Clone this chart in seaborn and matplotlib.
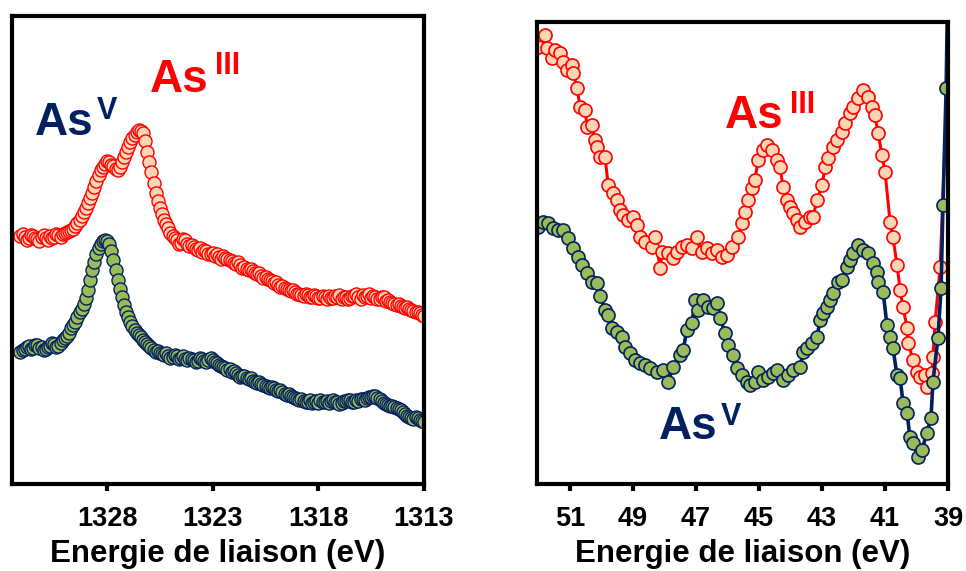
import numpy as np
import matplotlib
matplotlib.use("Agg")
import matplotlib.pyplot as plt
import seaborn as sns

# ---- As 2p region (left) : 0.1 eV step from 1332.1 down to 1313.0 ----
e_2p = np.round(1332.1 - 0.1 * np.arange(192), 1)
as3_2p = [248, 250, 247, 244, 246, 249, 248, 246, 245, 243, 247, 249, 246, 244,
          248, 246, 247, 250, 249, 247, 250, 251, 252, 253, 254, 255, 258, 261,
          264, 268, 272, 276, 281, 286, 291, 297, 303, 309, 314, 317, 320, 323,
          322, 319, 318, 315, 314, 317, 322, 327, 332, 337, 342, 346, 349, 352,
          354, 353, 351, 343, 332, 322, 312, 301, 291, 283, 276, 270, 264, 260,
          256, 251, 248, 246, 244, 240, 241, 245, 244, 240, 238, 239, 237, 235,
          234, 236, 232, 234, 233, 230, 230, 231, 228, 230, 227, 225, 228, 226,
          225, 224, 223, 221, 220, 222, 219, 216, 217, 215, 214, 215, 213, 211,
          210, 211, 208, 206, 207, 205, 204, 203, 201, 202, 199, 197, 198, 196,
          195, 194, 193, 194, 192, 190, 190, 189, 188, 190, 189, 187, 187, 189,
          188, 186, 186, 188, 187, 185, 188, 186, 186, 188, 187, 189, 185, 187,
          187, 185, 186, 188, 188, 190, 187, 185, 189, 187, 188, 190, 186, 188,
          187, 185, 185, 187, 187, 183, 184, 182, 181, 180, 179, 180, 178, 177,
          176, 177, 175, 174, 173, 172, 172, 171, 169, 168]
as5_2p = [132, 134, 135, 137, 138, 135, 136, 139, 139, 136, 137, 134, 135, 137,
          138, 141, 140, 137, 138, 141, 144, 146, 148, 151, 156, 159, 162, 167,
          172, 175, 180, 186, 194, 204, 214, 222, 230, 236, 240, 243, 244, 243,
          240, 233, 224, 214, 204, 195, 187, 179, 172, 167, 162, 158, 154, 151,
          149, 147, 144, 142, 140, 138, 136, 134, 132, 133, 131, 130, 129, 131,
          128, 126, 127, 129, 128, 125, 126, 128, 125, 124, 126, 125, 124, 122,
          123, 126, 125, 123, 122, 124, 126, 124, 122, 121, 119, 118, 117, 116,
          114, 115, 112, 113, 111, 109, 107, 108, 108, 106, 105, 106, 103, 102,
          101, 102, 100, 99, 98, 97, 96, 97, 96, 94, 93, 94, 92, 90, 89, 90,
          88, 87, 86, 85, 84, 85, 83, 82, 82, 84, 81, 82, 83, 81, 84, 82,
          82, 83, 81, 83, 84, 82, 82, 80, 81, 83, 83, 84, 84, 82, 82, 84,
          83, 85, 85, 84, 86, 87, 87, 88, 88, 86, 85, 83, 81, 80, 79, 78,
          78, 77, 76, 75, 74, 72, 70, 68, 67, 66, 65, 67, 66, 64, 63, 62]

# ---- As 3d region (right) ----
e_3d_as3 = [52.02, 51.79, 51.73, 51.57, 51.48, 51.32, 51.22, 51.10, 50.94,
            50.90, 50.78, 50.68, 50.52, 50.46, 50.30, 50.21, 50.14, 50.05,
            49.89, 49.79, 49.63, 49.51, 49.41, 49.32, 49.16, 49.00, 48.87,
            48.78, 48.62, 48.40, 48.30, 48.14, 48.08, 47.89, 47.73, 47.60,
            47.44, 47.29, 47.13, 46.97, 46.81, 46.65, 46.49, 46.33, 46.17,
            46.02, 45.86, 45.67, 45.54, 45.44, 45.35, 45.22, 45.13, 45.03,
            44.87, 44.75, 44.59, 44.43, 44.33, 44.24, 44.11, 44.02, 43.92,
            43.79, 43.70, 43.54, 43.38, 43.29, 43.16, 43.00, 42.90, 42.81,
            42.65, 42.52, 42.37, 42.27, 42.11, 42.02, 41.86, 41.70, 41.54,
            41.41, 41.32, 41.22, 41.10, 41.00, 40.84, 40.75, 40.62, 40.52,
            40.43, 40.30, 40.27, 40.11, 39.98, 39.89, 39.73, 39.67, 39.51,
            39.48, 39.41, 39.25, 39.03]
as3_3d = [437, 449, 436, 426, 434, 431, 422, 414, 419, 411, 396, 377, 374,
          357, 359, 344, 337, 327, 327, 299, 291, 284, 274, 269, 264, 267,
          259, 247, 242, 237, 247, 216, 232, 231, 226, 232, 237, 239, 236,
          247, 232, 236, 231, 234, 227, 229, 237, 247, 261, 272, 284, 296,
          304, 324, 334, 339, 334, 324, 317, 297, 284, 277, 271, 264, 257,
          262, 267, 267, 284, 299, 317, 326, 337, 344, 352, 361, 371, 377,
          386, 394, 387, 377, 369, 351, 329, 312, 262, 247, 219, 194, 177,
          156, 141, 124, 112, 107, 109, 97, 111, 127, 162, 217, 396]

e_3d_as5 = [52.02, 51.86, 51.70, 51.54, 51.38, 51.22, 51.06, 50.90, 50.75,
            50.62, 50.46, 50.30, 50.14, 50.05, 49.89, 49.79, 49.67, 49.51,
            49.35, 49.25, 49.10, 48.94, 48.78, 48.62, 48.46, 48.24, 48.05,
            47.89, 47.73, 47.51, 47.41, 47.29, 47.13, 47.03, 46.94, 46.78,
            46.62, 46.46, 46.33, 46.24, 46.08, 45.98, 45.83, 45.70, 45.54,
            45.38, 45.29, 45.13, 45.03, 44.87, 44.71, 44.56, 44.43, 44.24,
            44.08, 43.92, 43.70, 43.60, 43.48, 43.32, 43.16, 43.06, 42.97,
            42.84, 42.75, 42.65, 42.49, 42.37, 42.21, 42.11, 42.02, 41.86,
            41.70, 41.54, 41.38, 41.25, 41.22, 41.06, 40.94, 40.84, 40.75,
            40.62, 40.52, 40.43, 40.30, 40.21, 40.11, 39.95, 39.83, 39.67,
            39.54, 39.48, 39.32, 39.22, 39.16, 39.06, 38.98]
as5_3d = [257, 262, 261, 256, 254, 254, 246, 236, 227, 219, 211, 202, 201,
          188, 174, 169, 156, 152, 147, 137, 131, 124, 121, 119, 116, 112,
          114, 102, 117, 129, 134, 154, 161, 184, 174, 184, 177, 176, 181,
          166, 151, 139, 129, 116, 109, 102, 99, 102, 112, 104, 107, 111,
          114, 104, 109, 114, 117, 132, 136, 141, 147, 164, 171, 177, 184,
          191, 202, 204, 217, 224, 231, 239, 234, 231, 221, 212, 202, 192,
          159, 147, 136, 109, 106, 81, 71, 47, 41, 27, 34, 51, 66, 102, 146,
          196, 279, 396, 560]

RED = "#FF0000"
PEACH = "#FCD5B5"
NAVY = "#002060"
GREEN = "#9BBB59"

sns.set_style("white")
plt.rcParams["font.family"] = ["Liberation Sans", "DejaVu Sans"]
plt.rcParams["font.weight"] = "bold"
plt.rcParams["text.color"] = "black"
plt.rcParams["axes.labelcolor"] = "black"
plt.rcParams["xtick.color"] = "black"

fig = plt.figure(figsize=(9.66, 5.71), dpi=100)
ax1 = fig.add_axes([0.0124, 0.1524, 0.4265, 0.8196])
ax2 = fig.add_axes([0.5559, 0.1524, 0.4255, 0.809])


def draw(ax, x, y, line_c, face_c, lw, mew):
    sns.lineplot(x=x, y=y, ax=ax, sort=False, estimator=None, color=line_c,
                 linewidth=lw, marker="o", markersize=9.4,
                 markerfacecolor=face_c, markeredgecolor=line_c,
                 markeredgewidth=mew)


draw(ax1, e_2p, as3_2p, RED, PEACH, 1.5, 1.0)
draw(ax1, e_2p, as5_2p, NAVY, GREEN, 1.5, 1.0)
draw(ax2, e_3d_as3, as3_3d, RED, PEACH, 2.2, 1.2)
draw(ax2, e_3d_as5, as5_3d, NAVY, GREEN, 2.6, 1.2)

ax1.set_xlim(1332.5, 1313)
ax1.set_ylim(0, 468)
ax1.set_xticks([1328, 1323, 1318, 1313])
ax2.set_xlim(52.05, 39)
ax2.set_ylim(0, 462)
ax2.set_xticks([51, 49, 47, 45, 43, 41, 39])

for ax in (ax1, ax2):
    ax.set_yticks([])
    ax.set_ylabel("")
    for s in ax.spines.values():
        s.set_visible(True)
        s.set_color("black")
        s.set_linewidth(3)
    ax.tick_params(axis="x", direction="out", length=5, width=3,
                   pad=11, labelsize=19.5, bottom=True, color="black",
                   labelcolor="black")
    ax.set_xlabel("Energie de liaison (eV)", fontsize=22.5,
                  fontweight="bold", labelpad=5, color="black")


def label(ax, x, y, xs, ys, sup, color):
    ax.text(x, y, "As", transform=ax.transAxes, fontsize=33,
            fontweight="bold", color=color, va="baseline", ha="left")
    ax.text(xs, ys, sup, transform=ax.transAxes, fontsize=22,
            fontweight="bold", color=color, va="top", ha="left")


label(ax1, 0.056, 0.746, 0.206, 0.830, "V", NAVY)
label(ax1, 0.335, 0.838, 0.493, 0.925, "III", RED)
label(ax2, 0.457, 0.771, 0.615, 0.852, "III", RED)
label(ax2, 0.297, 0.097, 0.446, 0.177, "V", NAVY)

fig.savefig("out.png", dpi=100)
